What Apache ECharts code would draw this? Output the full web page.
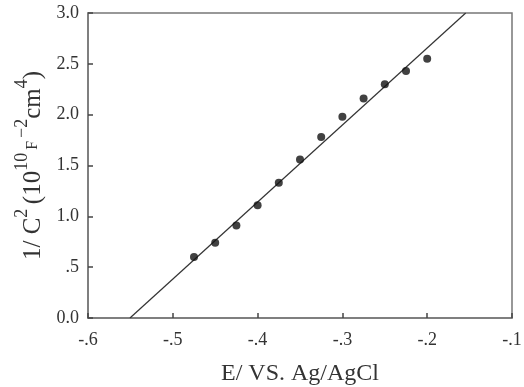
<!DOCTYPE html>
<html>
<head>
<meta charset="utf-8">
<script src="https://cdn.jsdelivr.net/npm/echarts@6/dist/echarts.min.js"></script>
<style>html,body{margin:0;padding:0;background:#fff}#c{width:524px;height:387px}</style>
</head>
<body>
<div id="c"></div>
<script>
var potentials = [-0.475, -0.45, -0.425, -0.4, -0.375, -0.35, -0.325, -0.3, -0.275, -0.25, -0.225, -0.2];
var invCapSq = [0.60, 0.74, 0.91, 1.11, 1.33, 1.56, 1.78, 1.98, 2.16, 2.30, 2.43, 2.55];
var fitLineX = [-0.5505, -0.1546];
var fitLineY = [0, 3.0];
var xTicks = [-0.6, -0.5, -0.4, -0.3, -0.2, -0.1];
var yTicks = [0, 0.5, 1.0, 1.5, 2.0, 2.5, 3.0];

function fmtX(v){ var s = v.toFixed(1); return s.replace('0.', '.'); }
function fmtY(v){ if (Math.abs(v) < 1e-9) return '0.0'; var s = v.toFixed(1); return s.indexOf('0.') === 0 ? s.slice(1) : s; }

var FONT = '"Liberation Serif", "DejaVu Serif", serif';
var chart = echarts.init(document.getElementById('c'), null, {renderer: 'canvas'});
var scatterData = potentials.map(function(x, i){ return [x, invCapSq[i]]; });
var lineData = fitLineX.map(function(x, i){ return [x, fitLineY[i]]; });

chart.setOption({
  animation: false,
  backgroundColor: '#fff',
  grid: {left: 88, right: 12, top: 13, bottom: 69, outerBoundsMode: 'none', containLabel: false,
         show: true, borderColor: '#777', borderWidth: 1.5, backgroundColor: 'transparent'},
  xAxis: {
    type: 'value', min: -0.6, max: -0.1, interval: 0.1,
    axisLine: {show: true, onZero: false, lineStyle: {color: '#777', width: 1.5}},
    axisTick: {show: true, inside: true, length: 5, lineStyle: {color: '#444', width: 1.5}},
    splitLine: {show: false},
    axisLabel: {fontFamily: FONT, fontSize: 18, color: '#333', margin: 13, formatter: fmtX},
    name: 'E/ VS. Ag/AgCl', nameLocation: 'middle', nameGap: 44,
    nameTextStyle: {fontFamily: FONT, fontSize: 24, color: '#333'}
  },
  yAxis: {
    type: 'value', min: 0, max: 3, interval: 0.5,
    axisLine: {show: true, onZero: false, lineStyle: {color: '#777', width: 1.5}},
    axisTick: {show: true, inside: true, length: 5, lineStyle: {color: '#444', width: 1.5}},
    splitLine: {show: false},
    axisLabel: {fontFamily: FONT, fontSize: 18, color: '#333', margin: 9, formatter: fmtY},
    name: '{m|1/ C}{s|2 }{m|(10}{s|10}{f|F}{s|−2}{m|cm}{s|4}{m|)}',
    nameLocation: 'middle', nameGap: 39, nameRotate: 90,
    nameTextStyle: {
      fontFamily: FONT, fontSize: 25, color: '#333',
      rich: {
        m: {fontFamily: FONT, fontSize: 25, color: '#333', lineHeight: 28, verticalAlign: 'bottom'},
        s: {fontFamily: FONT, fontSize: 18, color: '#333', lineHeight: 18, padding: [0, 0, 14, 0], verticalAlign: 'bottom'},
        f: {fontFamily: FONT, fontSize: 16, color: '#333', lineHeight: 16, padding: [0, 3, 5, 3], verticalAlign: 'bottom'}
      }
    }
  },
  series: [
    {
      type: 'line', data: lineData, showSymbol: false, symbol: 'none',
      lineStyle: {color: '#333', width: 1.2}, z: 2
    },
    {
      type: 'scatter', data: scatterData, symbol: 'circle', symbolSize: 8,
      itemStyle: {color: '#111'}, z: 3
    }
  ]
});
</script>
</body>
</html>
